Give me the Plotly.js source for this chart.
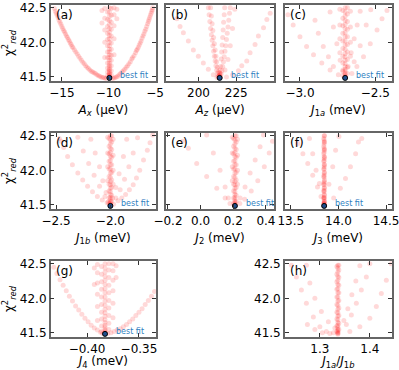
<!DOCTYPE html>
<html>
<head>
<meta charset="utf-8">
<script src="https://cdn.plot.ly/plotly-3.0.1.min.js"></script>
<style>
  html, body { margin: 0; padding: 0; background: #fff; }
  #chart { width: 399px; height: 370px; }
</style>
</head>
<body>
<div id="chart"></div>
<script>
// chi^2_red scans for each fit parameter as [x, y] pairs

const ptsA = [
  // wide parabola, left arm
  [-15.8, 42.49], [-15.7, 42.45], [-15.6, 42.42], [-15.5, 42.39], [-15.4, 42.36], [-15.3, 42.32], [-15.2, 42.29],
  [-15.1, 42.26], [-15.0, 42.23], [-14.9, 42.20], [-14.8, 42.17], [-14.7, 42.15], [-14.6, 42.12], [-14.5, 42.09],
  [-14.4, 42.07], [-14.3, 42.04], [-14.2, 42.02], [-14.1, 41.99], [-14.0, 41.97], [-13.9, 41.94], [-13.8, 41.92],
  [-13.65, 41.89], [-13.5, 41.86], [-13.35, 41.83], [-13.2, 41.80], [-13.05, 41.77], [-12.9, 41.74], [-12.75, 41.71],
  [-12.6, 41.69], [-12.45, 41.66], [-12.3, 41.64], [-12.15, 41.62], [-12.0, 41.60], [-11.85, 41.58], [-11.7, 41.57],
  [-11.55, 41.56], [-11.4, 41.55], [-11.25, 41.53], [-11.1, 41.52], [-10.95, 41.51], [-10.8, 41.50], [-10.65, 41.49],
  [-10.5, 41.49], [-10.35, 41.48], [-10.2, 41.48],
  // wide parabola, right arm
  [-9.6, 41.48], [-9.45, 41.48], [-9.3, 41.49], [-9.15, 41.50], [-9.0, 41.51], [-8.85, 41.53], [-8.7, 41.55],
  [-8.55, 41.57], [-8.4, 41.59], [-8.25, 41.61], [-8.1, 41.64], [-7.95, 41.66], [-7.8, 41.69], [-7.65, 41.72],
  [-7.5, 41.76], [-7.4, 41.78], [-7.25, 41.81], [-7.1, 41.85], [-7.0, 41.88], [-6.9, 41.90], [-6.8, 41.93],
  [-6.7, 41.96], [-6.6, 41.99], [-6.5, 42.02], [-6.4, 42.06], [-6.3, 42.09], [-6.2, 42.12], [-6.1, 42.16],
  [-6.0, 42.19], [-5.9, 42.23], [-5.8, 42.27], [-5.72, 42.30], [-5.65, 42.33], [-5.58, 42.36], [-5.5, 42.39],
  [-5.42, 42.42], [-5.35, 42.45], [-5.3, 42.47], [-5.25, 42.50],
  // column at the minimum
  [-9.9, 41.49], [-9.9, 41.50], [-9.9, 41.51], [-9.9, 41.52], [-9.9, 41.53], [-9.9, 41.55], [-9.9, 41.57],
  [-9.9, 41.59], [-9.9, 41.61], [-9.9, 41.64], [-9.9, 41.67], [-9.9, 41.70], [-9.9, 41.74], [-9.9, 41.78],
  [-9.9, 41.82], [-9.9, 41.86], [-9.9, 41.90], [-9.9, 41.95], [-9.9, 42.00], [-9.9, 42.05], [-9.9, 42.10],
  [-9.9, 42.15], [-9.9, 42.20], [-9.9, 42.26], [-9.9, 42.32], [-9.9, 42.38], [-9.9, 42.44], [-9.9, 42.50],
  [-10.1, 41.52], [-10.1, 41.57], [-10.1, 41.63], [-10.1, 41.70], [-10.1, 41.78], [-10.1, 41.86],
  [-10.1, 41.95], [-10.1, 42.04], [-10.1, 42.13], [-10.1, 42.23], [-10.1, 42.33], [-10.1, 42.44],
  [-9.7, 41.53], [-9.7, 41.59], [-9.7, 41.66], [-9.7, 41.74], [-9.7, 41.81], [-9.7, 41.90],
  [-9.7, 41.99], [-9.7, 42.09], [-9.7, 42.19], [-9.7, 42.29], [-9.7, 42.39], [-9.7, 42.49],
  [-10.4, 41.78], [-10.4, 42.00], [-10.4, 42.18], [-10.4, 42.35], [-10.4, 42.49],
  [-9.4, 41.82], [-9.4, 42.05], [-9.4, 42.24], [-9.4, 42.40], [-9.4, 42.50],
  [-10.7, 42.28], [-10.7, 42.46], [-9.1, 42.34], [-9.1, 42.48]
];

const ptsB = [
  // wide parabola
  [185.6, 42.34], [187.8, 42.23], [190.0, 42.14], [193.3, 42.02], [196.6, 41.89], [199.9, 41.80], [203.2, 41.70],
  [206.5, 41.61], [209.8, 41.53], [212.2, 41.49],
  [247.4, 42.42], [245.2, 42.33], [243.0, 42.21], [239.6, 42.09], [237.4, 41.97], [234.1, 41.85], [231.9, 41.73],
  [228.6, 41.66], [226.4, 41.59], [222.5, 41.53], [218.5, 41.50],
  [224.0, 42.48], [222.5, 42.20], [221.0, 41.95], [219.5, 41.75], [217.5, 41.60],
  // narrow V
  [206.5, 42.50], [207.0, 42.40], [207.5, 42.30], [208.0, 42.20], [208.5, 42.11], [209.0, 42.03], [209.5, 41.95],
  [210.0, 41.87], [210.5, 41.80], [211.0, 41.73], [211.5, 41.66], [212.0, 41.60], [212.5, 41.55], [213.0, 41.51],
  [213.5, 41.49],
  [208.0, 42.50], [208.5, 42.38], [209.0, 42.27], [209.5, 42.17], [210.0, 42.07], [210.5, 41.98], [211.0, 41.89],
  [211.5, 41.80], [212.0, 41.72], [212.5, 41.64], [213.0, 41.57], [213.5, 41.51],
  [214.5, 41.50], [215.0, 41.54], [215.5, 41.59], [216.0, 41.65], [216.5, 41.72], [217.0, 41.79], [217.5, 41.87],
  [218.0, 41.95], [218.5, 42.04], [219.0, 42.13], [219.5, 42.22], [220.0, 42.32], [220.5, 42.42], [221.0, 42.50],
  [214.3, 41.55], [214.6, 41.65], [215.0, 41.76], [215.3, 41.86], [215.6, 41.96], [216.0, 42.07], [216.3, 42.18],
  [216.6, 42.29], [217.0, 42.40], [217.3, 42.50],
  [214.0, 41.49], [214.0, 41.50], [213.8, 41.52], [214.1, 41.53], [213.9, 41.56], [214.2, 41.60]
];

const ptsC = [
  [-3.08, 42.40], [-3.045, 42.25], [-3.0, 42.08], [-2.956, 41.94], [-2.91, 41.82], [-2.855, 41.70], [-2.80, 41.60],
  [-2.745, 41.53],
  [-2.80, 42.44], [-2.778, 42.22], [-2.755, 41.98], [-2.733, 41.74], [-2.715, 41.58],
  [-2.90, 42.32], [-2.878, 42.13], [-2.845, 41.94], [-2.811, 41.79], [-2.778, 41.65],
  [-2.422, 42.46], [-2.455, 42.34], [-2.488, 42.18], [-2.533, 41.98], [-2.578, 41.79], [-2.622, 41.65],
  [-2.655, 41.55],
  [-2.60, 42.45], [-2.62, 42.25], [-2.64, 42.05], [-2.66, 41.85], [-2.68, 41.65],
  [-2.53, 42.47], [-2.56, 42.25], [-2.60, 41.95], [-2.64, 41.72],
  [-2.70, 41.49], [-2.70, 41.50], [-2.70, 41.51], [-2.70, 41.53], [-2.70, 41.55], [-2.70, 41.58], [-2.70, 41.61],
  [-2.70, 41.65], [-2.70, 41.69], [-2.70, 41.74], [-2.70, 41.79], [-2.70, 41.84], [-2.70, 41.90], [-2.70, 41.96],
  [-2.70, 42.02], [-2.70, 42.08], [-2.70, 42.14], [-2.70, 42.20], [-2.70, 42.26], [-2.70, 42.32], [-2.70, 42.38],
  [-2.70, 42.44], [-2.70, 42.50],
  [-2.715, 41.52], [-2.715, 41.60], [-2.715, 41.70], [-2.715, 41.80], [-2.715, 41.91], [-2.715, 42.02],
  [-2.715, 42.13], [-2.715, 42.24], [-2.715, 42.35], [-2.715, 42.46],
  [-2.685, 41.55], [-2.685, 41.64], [-2.685, 41.75], [-2.685, 41.86], [-2.685, 41.97], [-2.685, 42.08],
  [-2.685, 42.19], [-2.685, 42.30], [-2.685, 42.41], [-2.685, 42.50],
  [-2.735, 41.85], [-2.735, 42.05], [-2.735, 42.25], [-2.735, 42.48],
  [-2.665, 41.80], [-2.665, 42.00], [-2.665, 42.22], [-2.665, 42.45]
];

const ptsD = [
  [-2.47, 42.46], [-2.455, 42.42], [-2.43, 42.33], [-2.394, 42.20], [-2.35, 42.08], [-2.30, 41.96], [-2.255, 41.86],
  [-2.21, 41.77], [-2.165, 41.69], [-2.12, 41.62], [-2.075, 41.57], [-2.03, 41.53],
  [-2.30, 42.48], [-2.25, 42.28], [-2.20, 42.10], [-2.15, 41.93], [-2.10, 41.77], [-2.05, 41.62], [-2.02, 41.54],
  [-2.18, 42.45], [-2.14, 42.25], [-2.10, 42.05], [-2.07, 41.85], [-2.04, 41.68],
  [-1.61, 42.51], [-1.635, 42.40], [-1.66, 42.29], [-1.695, 42.15], [-1.73, 42.00], [-1.76, 41.89], [-1.79, 41.79],
  [-1.825, 41.72], [-1.86, 41.65], [-1.895, 41.60], [-1.93, 41.56], [-1.97, 41.51],
  [-1.75, 42.47], [-1.79, 42.25], [-1.83, 42.05], [-1.87, 41.87], [-1.91, 41.72], [-1.95, 41.60],
  [-1.85, 42.45], [-1.88, 42.20], [-1.92, 41.95], [-1.95, 41.75], [-1.98, 41.60],
  [-2.0, 41.49], [-2.0, 41.50], [-2.0, 41.51], [-2.0, 41.53], [-2.0, 41.55], [-2.0, 41.58], [-2.0, 41.61],
  [-2.0, 41.65], [-2.0, 41.69], [-2.0, 41.74], [-2.0, 41.79], [-2.0, 41.84], [-2.0, 41.90], [-2.0, 41.96],
  [-2.0, 42.02], [-2.0, 42.08], [-2.0, 42.14], [-2.0, 42.20], [-2.0, 42.26], [-2.0, 42.32], [-2.0, 42.38],
  [-2.0, 42.44], [-2.0, 42.50],
  [-2.012, 41.52], [-2.012, 41.60], [-2.012, 41.70], [-2.012, 41.80], [-2.012, 41.91], [-2.012, 42.02],
  [-2.012, 42.13], [-2.012, 42.24], [-2.012, 42.35], [-2.012, 42.46],
  [-1.988, 41.55], [-1.988, 41.64], [-1.988, 41.75], [-1.988, 41.86], [-1.988, 41.97], [-1.988, 42.08],
  [-1.988, 42.19], [-1.988, 42.30], [-1.988, 42.41], [-1.988, 42.50],
  [-2.025, 41.85], [-2.025, 42.05], [-2.025, 42.25], [-2.025, 42.48],
  [-1.975, 41.80], [-1.975, 42.00], [-1.975, 42.22], [-1.975, 42.45]
];

const ptsE = [
  [-0.11, 42.42], [-0.075, 42.32], [-0.024, 42.10], [0.037, 41.91], [0.099, 41.74], [0.15, 41.60], [0.18, 41.52],
  [0.037, 42.51], [0.078, 42.25], [0.119, 42.00], [0.15, 41.76], [0.17, 41.60],
  [0.385, 42.51], [0.364, 42.34], [0.334, 42.15], [0.303, 41.96], [0.272, 41.76], [0.242, 41.60],
  [0.44, 42.42], [0.42, 42.25], [0.39, 42.05], [0.35, 41.85], [0.31, 41.70], [0.27, 41.58], [0.24, 41.52],
  [0.21, 41.49], [0.21, 41.50], [0.21, 41.51], [0.21, 41.53], [0.21, 41.55], [0.21, 41.58], [0.21, 41.61],
  [0.21, 41.65], [0.21, 41.69], [0.21, 41.74], [0.21, 41.79], [0.21, 41.84], [0.21, 41.90], [0.21, 41.96],
  [0.21, 42.02], [0.21, 42.08], [0.21, 42.14], [0.21, 42.20], [0.21, 42.26], [0.21, 42.32], [0.21, 42.38],
  [0.21, 42.44], [0.21, 42.50],
  [0.202, 41.52], [0.202, 41.60], [0.202, 41.70], [0.202, 41.80], [0.202, 41.91], [0.202, 42.02], [0.202, 42.13],
  [0.202, 42.24], [0.202, 42.35], [0.202, 42.46],
  [0.218, 41.55], [0.218, 41.64], [0.218, 41.75], [0.218, 41.86], [0.218, 41.97], [0.218, 42.08], [0.218, 42.19],
  [0.218, 42.30], [0.218, 42.41], [0.218, 42.50],
  [0.194, 41.85], [0.194, 42.05], [0.194, 42.25], [0.194, 42.48],
  [0.226, 41.80], [0.226, 42.00], [0.226, 42.22], [0.226, 42.45]
];

const ptsF = [
  [13.575, 42.39], [13.627, 42.24], [13.678, 42.10], [13.73, 41.93], [13.78, 41.76], [13.817, 41.62],
  [13.696, 42.46], [13.73, 42.24], [13.765, 42.00], [13.80, 41.81],
  [14.21, 42.41], [14.18, 42.24], [14.126, 42.05], [14.074, 41.88], [14.02, 41.74], [13.95, 41.60],
  [14.245, 42.46], [14.005, 42.49], [13.97, 42.29], [13.94, 42.05], [13.90, 41.80],
  [13.85, 41.49], [13.85, 41.50], [13.85, 41.51], [13.85, 41.53], [13.85, 41.55], [13.85, 41.58], [13.85, 41.61],
  [13.85, 41.65], [13.85, 41.69], [13.85, 41.74], [13.85, 41.79], [13.85, 41.84], [13.85, 41.90], [13.85, 41.96],
  [13.85, 42.02], [13.85, 42.08], [13.85, 42.14], [13.85, 42.20], [13.85, 42.26], [13.85, 42.32], [13.85, 42.38],
  [13.85, 42.44], [13.85, 42.50],
  [13.85, 41.52], [13.85, 41.60], [13.85, 41.71], [13.85, 41.82], [13.85, 41.93], [13.85, 42.05], [13.85, 42.17],
  [13.85, 42.29], [13.85, 42.41],
  [13.846, 41.52], [13.846, 41.60], [13.846, 41.70], [13.846, 41.80], [13.846, 41.91], [13.846, 42.02],
  [13.846, 42.13], [13.846, 42.24], [13.846, 42.35], [13.846, 42.46],
  [13.854, 41.55], [13.854, 41.64], [13.854, 41.75], [13.854, 41.86], [13.854, 41.97], [13.854, 42.08],
  [13.854, 42.19], [13.854, 42.30], [13.854, 42.41], [13.854, 42.50]
];

const ptsG = [
  [-0.432, 42.45], [-0.429, 42.36], [-0.426, 42.27], [-0.423, 42.19], [-0.420, 42.11], [-0.417, 42.03],
  [-0.414, 41.96], [-0.411, 41.89], [-0.408, 41.83], [-0.405, 41.77], [-0.402, 41.71], [-0.399, 41.66],
  [-0.396, 41.61], [-0.393, 41.57], [-0.390, 41.54], [-0.387, 41.51], [-0.385, 41.49],
  [-0.380, 41.49], [-0.377, 41.50], [-0.374, 41.52], [-0.371, 41.54], [-0.368, 41.56], [-0.365, 41.59],
  [-0.362, 41.62], [-0.359, 41.66], [-0.356, 41.70], [-0.353, 41.75], [-0.350, 41.80], [-0.347, 41.85],
  [-0.344, 41.91], [-0.341, 41.97], [-0.338, 42.03], [-0.335, 42.10],
  [-0.3827, 41.49], [-0.3827, 41.50], [-0.3827, 41.51], [-0.3827, 41.53], [-0.3827, 41.55], [-0.3827, 41.58],
  [-0.3827, 41.61], [-0.3827, 41.65], [-0.3827, 41.69], [-0.3827, 41.74], [-0.3827, 41.79], [-0.3827, 41.84],
  [-0.3827, 41.90], [-0.3827, 41.96], [-0.3827, 42.02], [-0.3827, 42.08], [-0.3827, 42.14], [-0.3827, 42.20],
  [-0.3827, 42.26], [-0.3827, 42.32], [-0.3827, 42.38], [-0.3827, 42.44], [-0.3827, 42.50],
  [-0.386, 41.52], [-0.386, 41.60], [-0.386, 41.70], [-0.386, 41.80], [-0.386, 41.91], [-0.386, 42.02],
  [-0.386, 42.13], [-0.386, 42.24], [-0.386, 42.35], [-0.386, 42.46],
  [-0.379, 41.55], [-0.379, 41.64], [-0.379, 41.75], [-0.379, 41.86], [-0.379, 41.97], [-0.379, 42.08],
  [-0.379, 42.19], [-0.379, 42.30], [-0.379, 42.41], [-0.379, 42.50],
  [-0.390, 41.68], [-0.390, 41.88], [-0.390, 42.06], [-0.390, 42.22], [-0.390, 42.37], [-0.390, 42.49],
  [-0.375, 41.72], [-0.375, 41.93], [-0.375, 42.11], [-0.375, 42.26], [-0.375, 42.40], [-0.375, 42.50],
  [-0.393, 42.20], [-0.393, 42.44], [-0.372, 42.30], [-0.372, 42.47]
];

const ptsH = [
  [1.243, 42.48], [1.253, 42.31], [1.263, 42.12], [1.273, 41.93], [1.287, 41.73], [1.300, 41.59], [1.313, 41.52],
  [1.327, 41.50],
  [1.273, 42.48], [1.280, 42.22], [1.290, 42.00], [1.303, 41.81], [1.317, 41.66], [1.330, 41.57],
  [1.275, 41.62], [1.290, 41.55], [1.305, 41.50], [1.320, 41.49],
  [1.443, 42.50], [1.433, 42.26], [1.423, 42.07], [1.413, 41.88], [1.400, 41.71], [1.380, 41.59], [1.360, 41.52],
  [1.400, 42.50], [1.393, 42.31], [1.383, 42.12], [1.373, 41.93], [1.363, 41.76], [1.353, 41.62],
  [1.380, 42.47], [1.372, 42.25], [1.364, 42.05], [1.356, 41.85], [1.348, 41.68],
  [1.336, 41.48], [1.336, 41.49], [1.336, 41.50], [1.336, 41.51], [1.336, 41.53], [1.336, 41.55], [1.336, 41.58],
  [1.336, 41.61], [1.336, 41.65], [1.336, 41.69], [1.336, 41.74], [1.336, 41.79], [1.336, 41.84], [1.336, 41.90],
  [1.336, 41.96], [1.336, 42.02], [1.336, 42.08], [1.336, 42.14], [1.336, 42.20], [1.336, 42.26], [1.336, 42.32],
  [1.336, 42.38], [1.336, 42.44], [1.336, 42.48],
  [1.334, 41.52], [1.334, 41.60], [1.334, 41.70], [1.334, 41.80], [1.334, 41.91], [1.334, 42.02], [1.334, 42.13],
  [1.334, 42.24], [1.334, 42.35], [1.334, 42.46],
  [1.338, 41.55], [1.338, 41.64], [1.338, 41.75], [1.338, 41.86], [1.338, 41.97], [1.338, 42.08], [1.338, 42.19],
  [1.338, 42.30], [1.338, 42.41], [1.338, 42.48]
];

const panelLabels = ['(a)', '(b)', '(c)', '(d)', '(e)', '(f)', '(g)', '(h)'];
const xTitles = [
  '<i>A<sub>x</sub></i> (μeV)', '<i>A<sub>z</sub></i> (μeV)', '<i>J</i><sub>1<i>a</i></sub> (meV)',
  '<i>J</i><sub>1<i>b</i></sub> (meV)', '<i>J</i><sub>2</sub> (meV)', '<i>J</i><sub>3</sub> (meV)',
  '<i>J</i><sub>4</sub> (meV)', '<i>J</i><sub>1<i>a</i></sub>/<i>J</i><sub>1<i>b</i></sub>'
];
const xTickVals = [[-15, -10, -5], [200, 225], [-3.0, -2.5], [-2.5, -2.0], [-0.2, 0, 0.2, 0.4],
  [13.5, 14.0, 14.5], [-0.40, -0.35], [1.3, 1.4]];
const xTickText = [['−15', '−10', '−5'], ['200', '225'], ['−3.0', '−2.5'], ['−2.5', '−2.0'],
  ['−0.2', '0.0', '0.2', '0.4'], ['13.5', '14.0', '14.5'], ['−0.40', '−0.35'], ['1.3', '1.4']];
const xRanges = [[-16.2, -4.9], [178.5, 250], [-3.1, -2.39], [-2.55, -1.58], [-0.212, 0.45],
  [13.438, 14.56], [-0.435, -0.3336], [1.23, 1.444]];
const yTickVals = [41.5, 42.0, 42.5];
const yTickText = ['41.5', '42.0', '42.5'];
const yRange = [41.44, 42.54];
// best-fit value per panel (none marked in (h))
const bestFit = [-9.9, 214, -2.70, -2.0, 0.21, 13.85, -0.3827, null];
const bestChi = 41.485;

const allPts = [ptsA, ptsB, ptsC, ptsD, ptsE, ptsF, ptsG, ptsH];

const FONT = 'DejaVu Sans, sans-serif';
const colDom = [[0.127, 0.391], [0.416, 0.687], [0.714, 0.982]];
const rowDom = [[0.781, 0.9865], [0.4351, 0.6405], [0.0892, 0.2946]];
// panel -> [row, col]
const cells = [[0, 0], [0, 1], [0, 2], [1, 0], [1, 1], [1, 2], [2, 0], [2, 2]];

const traces = [];
const layout = {
  width: 399, height: 370,
  margin: { l: 0, r: 0, t: 0, b: 0 },
  paper_bgcolor: '#fff', plot_bgcolor: '#fff',
  showlegend: false,
  font: { family: FONT, size: 12, color: '#000' },
  annotations: []
};

const axisBase = {
  showline: true, linecolor: '#666', linewidth: 1.5, mirror: 'allticks',
  ticks: 'inside', ticklen: 4, tickwidth: 1, tickcolor: '#333',
  showgrid: false, zeroline: false, ticklabeloverflow: 'allow',
  tickfont: { family: FONT, size: 12, color: '#000' }
};

cells.forEach(([r, c], i) => {
  const k = i === 0 ? '' : String(i + 1);
  const pts = allPts[i];
  traces.push({
    type: 'scatter', mode: 'markers',
    x: pts.map(p => p[0]), y: pts.map(p => p[1]),
    xaxis: 'x' + k, yaxis: 'y' + k,
    marker: { size: 5, color: 'rgb(255,0,0)', opacity: 0.15 },
    hoverinfo: 'skip'
  });

  layout['xaxis' + k] = Object.assign({}, axisBase, {
    domain: colDom[c], anchor: 'y' + k, range: xRanges[i],
    tickvals: xTickVals[i], ticktext: xTickText[i],
    title: { text: xTitles[i], font: { family: FONT, size: 12 }, standoff: 6 }
  });
  layout['yaxis' + k] = Object.assign({}, axisBase, {
    domain: rowDom[r], anchor: 'x' + k, range: yRange,
    tickvals: yTickVals, ticktext: yTickText,
    showticklabels: c === 0 || i === 7,
    title: c === 0 ? { text: 'χ<sup>2</sup><sub><i>red</i></sub>', font: { family: FONT, size: 12 }, standoff: 6 } : { text: '' }
  });

  layout.annotations.push({
    xref: 'x' + k + ' domain', yref: 'y' + k + ' domain', x: 0.03, y: 0.99,
    xanchor: 'left', yanchor: 'top', showarrow: false,
    text: panelLabels[i], font: { family: FONT, size: 12, color: '#000' }
  });

  if (bestFit[i] !== null) {
    traces.push({
      type: 'scatter', mode: 'markers',
      x: [bestFit[i]], y: [bestChi],
      xaxis: 'x' + k, yaxis: 'y' + k,
      marker: { size: 5, color: '#1f4e8c', line: { color: '#000', width: 1 } },
      hoverinfo: 'skip'
    });
    layout.annotations.push({
      xref: 'x' + k, yref: 'y' + k, x: bestFit[i], y: 41.52,
      xshift: 9, xanchor: 'left', yanchor: 'middle', showarrow: false,
      text: 'best fit', font: { family: FONT, size: 8, color: '#2f7fc1' }
    });
  }
});

Plotly.newPlot('chart', traces, layout, { displayModeBar: false });
</script>
</body>
</html>
